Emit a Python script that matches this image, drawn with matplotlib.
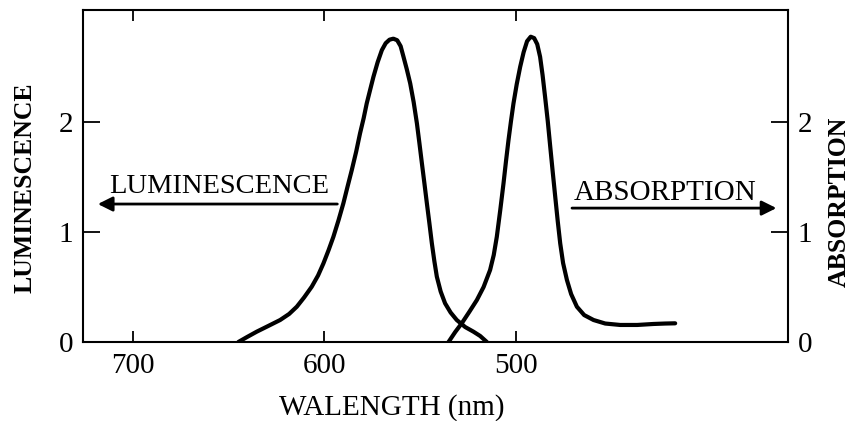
import matplotlib
matplotlib.use('Agg')
import matplotlib.pyplot as plt

plt.rcParams['font.family'] = ['Liberation Serif', 'DejaVu Serif']

# luminescence curve (wavelength nm, intensity)
lum_wl = [644.9, 640.4, 635.3, 629.4, 623.1, 618.4, 614.4, 610.6, 606.6, 603.3,
          600.5, 597.8, 595.3, 592.6, 590.1, 587.9, 585.7, 583.4, 581.4, 579.5,
          577.9, 576.1, 574.4, 572.2, 570.0, 568.0, 566.0, 564.0, 562.0, 560.2,
          558.7, 557.0, 555.2, 553.4, 551.7, 550.4, 549.1, 547.8, 546.5, 545.2,
          543.9, 542.6, 541.3, 539.3, 537.0, 534.1, 530.9, 526.5, 522.2, 518.7,
          515.2]
lum_val = [0.0, 0.045, 0.094, 0.145, 0.20, 0.255, 0.321, 0.405, 0.503, 0.605,
           0.715, 0.836, 0.957, 1.109, 1.261, 1.414, 1.564, 1.732, 1.897, 2.036,
           2.170, 2.295, 2.412, 2.545, 2.655, 2.718, 2.750, 2.759, 2.745, 2.691,
           2.594, 2.482, 2.352, 2.182, 1.988, 1.809, 1.625, 1.445, 1.261, 1.082,
           0.897, 0.736, 0.594, 0.459, 0.352, 0.268, 0.20, 0.136, 0.094, 0.055,
           0.0]

# absorption curve
abs_wl = [535.2, 531.7, 528.3, 524.4, 520.4, 516.9, 513.5, 511.6, 510.0, 508.2,
          506.5, 505.2, 503.9, 502.6, 501.3, 499.6, 497.8, 496.0, 494.2, 492.3,
          490.5, 488.9, 487.4, 486.1, 484.8, 483.4, 482.1, 480.8, 479.5, 478.2,
          476.9, 475.4, 473.4, 471.2, 468.2, 464.4, 459.5, 453.4, 445.6, 436.7,
          428.2, 422.1, 416.9]
abs_val = [0.0, 0.091, 0.170, 0.273, 0.382, 0.50, 0.655, 0.791, 0.957, 1.20,
           1.443, 1.645, 1.836, 2.009, 2.170, 2.345, 2.503, 2.636, 2.736, 2.777,
           2.764, 2.709, 2.594, 2.427, 2.230, 2.009, 1.775, 1.545, 1.321, 1.10,
           0.897, 0.718, 0.564, 0.436, 0.321, 0.245, 0.20, 0.168, 0.155, 0.155,
           0.164, 0.168, 0.170]

x_ticks = [700, 600, 500]
y_ticks = [0, 1, 2]

fig = plt.figure(figsize=(8.52, 4.21), dpi=100)
ax = fig.add_axes([83 / 852, 1 - 342 / 421, 705 / 852, 332 / 421])

ax.plot(lum_wl, lum_val, color='black', lw=3, solid_joinstyle='round', solid_capstyle='round')
ax.plot(abs_wl, abs_val, color='black', lw=3, solid_joinstyle='round', solid_capstyle='round')

ax.set_xlim(726, 358)
ax.set_ylim(0, 3.02)
ax.set_xticks(x_ticks)
ax.set_yticks(y_ticks)

for s in ax.spines.values():
    s.set_linewidth(1.5)

ax.tick_params(axis='x', direction='in', length=8, width=1.3, top=True,
               labelsize=21, pad=8)
ax.tick_params(axis='y', direction='in', length=12, width=1.3, right=True,
               labelright=True, labelsize=21, pad=7)

# arrows with labels
ax.annotate('', xy=(719.7, 1.255), xytext=(591.8, 1.255),
            arrowprops=dict(arrowstyle='-|>', color='black', lw=2, mutation_scale=22))
ax.text(712.4, 1.355, 'LUMINESCENCE', fontsize=20.5, ha='left', va='baseline')

ax.annotate('', xy=(362.6, 1.218), xytext=(472.2, 1.218),
            arrowprops=dict(arrowstyle='-|>', color='black', lw=2, mutation_scale=22))
ax.text(469.6, 1.29, 'ABSORPTION', fontsize=21, ha='left', va='baseline')

fig.text(391.5 / 852, 1 - 415 / 421, 'WALENGTH (nm)', fontsize=21,
         ha='center', va='baseline')
fig.text(25 / 852, 1 - 187.5 / 421, 'LUMINESCENCE', fontsize=18.5, fontweight='bold',
         rotation=90, ha='center', va='center')
fig.text(851 / 852, 1 - 202 / 421, 'ABSORPTION', fontsize=18.5, fontweight='bold',
         rotation=90, ha='right', va='center')

fig.savefig('out.png', dpi=100)
